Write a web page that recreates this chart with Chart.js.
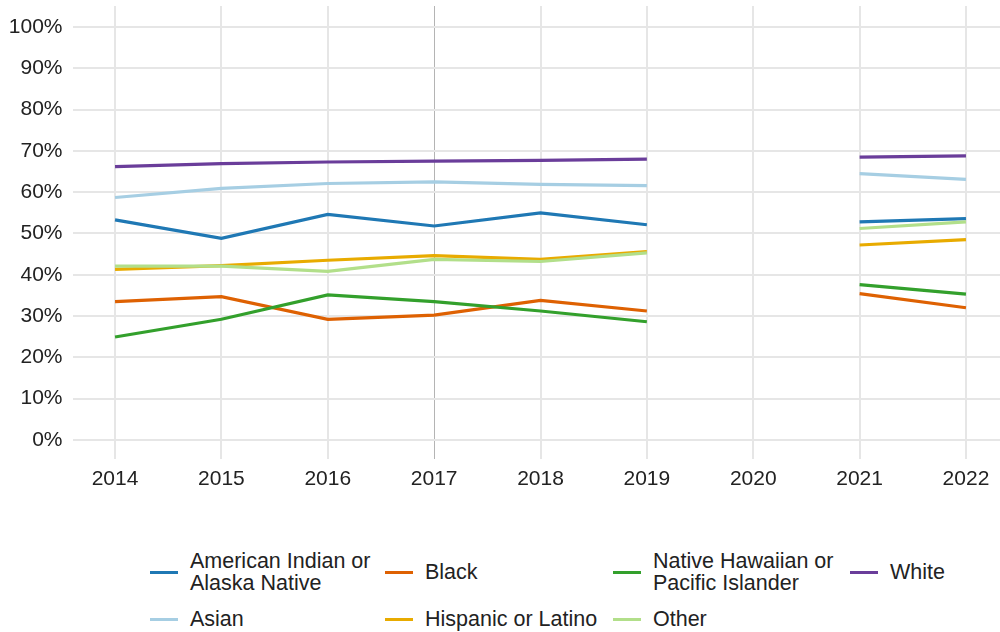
<!DOCTYPE html>
<html>
<head>
<meta charset="utf-8">
<script src="https://cdn.jsdelivr.net/npm/chart.js@4/dist/chart.umd.min.js"></script>
<style>
  body { margin: 0; background: #fff; font-family: "Liberation Sans", Arial, sans-serif; }
  #wrap { position: relative; width: 1000px; height: 632px; }
  #box { position: absolute; left: 0; top: 0; width: 1000px; height: 500px; }
  .item { position: absolute; display: flex; align-items: center; font-size: 21.5px; line-height: 22px; color: #222; }
  .swatch { width: 28px; height: 3px; margin-right: 12px; }
</style>
</head>
<body>
<div id="wrap">
  <div id="box"><canvas id="rateChart"></canvas></div>
  <div id="legend"></div>
</div>
<script>
var years = [2014, 2015, 2016, 2017, 2018, 2019, 2020, 2021, 2022];
var groups = ["American Indian or\nAlaska Native", "Asian", "Black", "Hispanic or Latino",
  "Native Hawaiian or\nPacific Islander", "Other", "White"];
var colors = ["#1f78b4", "#a6cee3", "#de6102", "#e8ab00", "#33a02c", "#b2df8a", "#6a3d9a"];

var aianRates     = [53.3, 48.8, 54.6, 51.8, 55.0, 52.1, null, 52.8, 53.6];
var asianRates    = [58.7, 60.9, 62.1, 62.5, 61.9, 61.6, null, 64.5, 63.1];
var blackRates    = [33.5, 34.7, 29.2, 30.2, 33.8, 31.2, null, 35.4, 32.0];
var hispanicRates = [41.3, 42.2, 43.5, 44.6, 43.7, 45.6, null, 47.2, 48.5];
var nhpiRates     = [24.9, 29.2, 35.1, 33.5, 31.2, 28.6, null, 37.6, 35.3];
var otherRates    = [42.1, 42.1, 40.8, 43.7, 43.2, 45.3, null, 51.2, 52.8];
var whiteRates    = [66.2, 66.9, 67.3, 67.5, 67.7, 68.0, null, 68.5, 68.8];

var yTicks = [0, 10, 20, 30, 40, 50, 60, 70, 80, 90, 100];

var series = [aianRates, asianRates, blackRates, hispanicRates, nhpiRates, otherRates, whiteRates];

var datasets = [];
for (var i = 0; i < groups.length; i++) {
  var pts = [];
  for (var j = 0; j < years.length; j++) {
    pts.push({ x: years[j], y: series[i][j] });
  }
  datasets.push({
    label: groups[i],
    data: pts,
    borderColor: colors[i],
    backgroundColor: colors[i],
    borderWidth: 3.2,
    pointRadius: 0,
    tension: 0,
    spanGaps: false,
    order: groups.length - i
  });
}

var ctx = document.getElementById("rateChart").getContext("2d");
var chart = new Chart(ctx, {
  type: "line",
  data: { datasets: datasets },
  options: {
    responsive: true,
    maintainAspectRatio: false,
    animation: false,
    layout: { padding: { top: 6, right: 0, left: 0, bottom: 0 } },
    plugins: { legend: { display: false }, tooltip: { enabled: false } },
    scales: {
      x: {
        type: "linear",
        min: 2013.6,
        max: 2022.32,
        afterBuildTicks: function (axis) {
          axis.ticks = years.map(function (v) { return { value: v }; });
        },
        afterFit: function (axis) {
          axis.paddingLeft = 0;
          axis.paddingRight = 0;
        },
        grid: {
          color: function (c) { return c.tick && c.tick.value === 2017 ? "#b4b4b4" : "#e6e6e6"; },
          lineWidth: function (c) { return c.tick && c.tick.value === 2017 ? 1 : 2; },
          drawTicks: false
        },
        border: { display: false },
        ticks: {
          padding: 8,
          color: "#222",
          font: { family: "'Liberation Sans', Arial, sans-serif", size: 21 },
          callback: function (v) { return String(v); }
        }
      },
      y: {
        min: -4.6,
        max: 105.1,
        afterBuildTicks: function (axis) {
          axis.ticks = yTicks.map(function (v) { return { value: v }; });
        },
        afterFit: function (axis) {
          axis.width = 72.5;
          axis.paddingTop = 0;
          axis.paddingBottom = 0;
        },
        grid: { color: "#e6e6e6", lineWidth: 2, drawTicks: false },
        border: { display: false },
        ticks: {
          padding: 10,
          color: "#222",
          font: { family: "'Liberation Sans', Arial, sans-serif", size: 21 },
          callback: function (v) { return v + "%"; }
        }
      }
    }
  }
});

// legend laid out in columns like the original
var legendSlots = [
  [150, 572], [150, 619], [385, 572], [385, 619], [613, 572], [613, 619], [850, 572]
];
var legend = document.getElementById("legend");
chart.data.datasets.forEach(function (ds, k) {
  var el = document.createElement("div");
  el.className = "item";
  el.style.left = legendSlots[k][0] + "px";
  el.style.top = legendSlots[k][1] + "px";
  el.style.transform = "translateY(-50%)";
  var sw = document.createElement("span");
  sw.className = "swatch";
  sw.style.background = ds.borderColor;
  var tx = document.createElement("span");
  tx.innerHTML = ds.label.replace("\n", "<br>");
  el.appendChild(sw);
  el.appendChild(tx);
  legend.appendChild(el);
});
</script>
</body>
</html>
